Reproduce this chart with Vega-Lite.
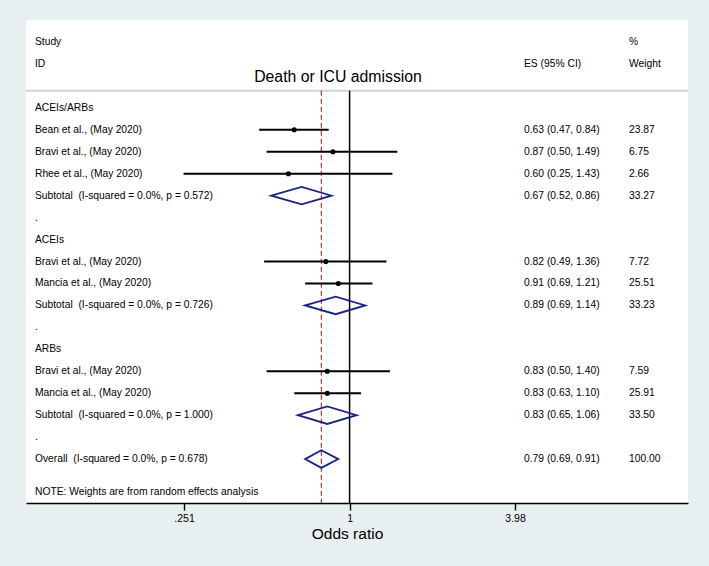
{
  "$schema": "https://vega.github.io/schema/vega-lite/v6.json",
  "width": 662,
  "height": 483,
  "autosize": {"type": "none"},
  "padding": {"left": 26, "top": 20, "right": 21, "bottom": 63},
  "background": "#e8eff1",
  "config": {
    "view": {"fill": "white", "stroke": null},
    "font": "Liberation Sans, Arial, sans-serif",
    "text": {"font": "Liberation Sans, Arial, sans-serif"}
  },
  "datasets": {
    "rows": [
      {"row": -3, "label": "Study", "estxt": "", "wt": "%", "type": "head"},
      {"row": -2, "label": "ID", "estxt": "ES (95% CI)", "wt": "Weight", "type": "head"},
      {"row": 0, "label": "ACEIs/ARBs", "estxt": "", "wt": "", "type": "group"},
      {"row": 1, "label": "Bean et al., (May 2020)", "es": 0.63, "lo": 0.47, "hi": 0.84, "estxt": "0.63 (0.47, 0.84)", "wt": "23.87", "type": "study"},
      {"row": 2, "label": "Bravi et al., (May 2020)", "es": 0.87, "lo": 0.50, "hi": 1.49, "estxt": "0.87 (0.50, 1.49)", "wt": "6.75", "type": "study"},
      {"row": 3, "label": "Rhee et al., (May 2020)", "es": 0.60, "lo": 0.25, "hi": 1.43, "estxt": "0.60 (0.25, 1.43)", "wt": "2.66", "type": "study"},
      {"row": 4, "label": "Subtotal\u00a0 (I-squared = 0.0%, p = 0.572)", "es": 0.67, "lo": 0.52, "hi": 0.86, "estxt": "0.67 (0.52, 0.86)", "wt": "33.27", "type": "pooled"},
      {"row": 5, "label": ".", "estxt": "", "wt": "", "type": "gap"},
      {"row": 6, "label": "ACEIs", "estxt": "", "wt": "", "type": "group"},
      {"row": 7, "label": "Bravi et al., (May 2020)", "es": 0.82, "lo": 0.49, "hi": 1.36, "estxt": "0.82 (0.49, 1.36)", "wt": "7.72", "type": "study"},
      {"row": 8, "label": "Mancia et al., (May 2020)", "es": 0.91, "lo": 0.69, "hi": 1.21, "estxt": "0.91 (0.69, 1.21)", "wt": "25.51", "type": "study"},
      {"row": 9, "label": "Subtotal\u00a0 (I-squared = 0.0%, p = 0.726)", "es": 0.89, "lo": 0.69, "hi": 1.14, "estxt": "0.89 (0.69, 1.14)", "wt": "33.23", "type": "pooled"},
      {"row": 10, "label": ".", "estxt": "", "wt": "", "type": "gap"},
      {"row": 11, "label": "ARBs", "estxt": "", "wt": "", "type": "group"},
      {"row": 12, "label": "Bravi et al., (May 2020)", "es": 0.83, "lo": 0.50, "hi": 1.40, "estxt": "0.83 (0.50, 1.40)", "wt": "7.59", "type": "study"},
      {"row": 13, "label": "Mancia et al., (May 2020)", "es": 0.83, "lo": 0.63, "hi": 1.10, "estxt": "0.83 (0.63, 1.10)", "wt": "25.91", "type": "study"},
      {"row": 14, "label": "Subtotal\u00a0 (I-squared = 0.0%, p = 1.000)", "es": 0.83, "lo": 0.65, "hi": 1.06, "estxt": "0.83 (0.65, 1.06)", "wt": "33.50", "type": "pooled"},
      {"row": 15, "label": ".", "estxt": "", "wt": "", "type": "gap"},
      {"row": 16, "label": "Overall\u00a0 (I-squared = 0.0%, p = 0.678)", "es": 0.79, "lo": 0.69, "hi": 0.91, "estxt": "0.79 (0.69, 0.91)", "wt": "100.00", "type": "pooled"},
      {"row": 17.5, "label": "NOTE: Weights are from random effects analysis", "estxt": "", "wt": "", "type": "note"}
    ]
  },
  "layer": [
    {
      "data": {"values": [{}]},
      "mark": {"type": "rule", "color": "#d2d2d2", "strokeWidth": 2},
      "encoding": {
        "y": {"datum": -0.78, "type": "quantitative", "scale": {"domain": [-4, 18], "reverse": true, "nice": false, "zero": false}, "axis": null}
      }
    },
    {
      "data": {"values": [{}]},
      "mark": {"type": "rule", "color": "#000000", "strokeWidth": 1.5},
      "encoding": {
        "x": {"datum": 1, "type": "quantitative"},
        "y": {"datum": -0.78, "type": "quantitative"},
        "y2": {"datum": 18}
      }
    },
    {
      "data": {"values": [{}]},
      "mark": {"type": "rule", "color": "#b8332e", "strokeWidth": 1.2, "strokeDash": [5, 3]},
      "encoding": {
        "x": {"datum": 0.79, "type": "quantitative"},
        "y": {"datum": -0.78, "type": "quantitative"},
        "y2": {"datum": 18}
      }
    },
    {
      "data": {"name": "rows"},
      "transform": [{"filter": "datum.type === 'study'"}],
      "mark": {"type": "rule", "color": "#000000", "strokeWidth": 1.9},
      "encoding": {
        "x": {
          "field": "lo", "type": "quantitative",
          "scale": {"type": "log", "domain": [0.0671, 16.87], "nice": false, "zero": false},
          "axis": {
            "values": [0.251, 1, 3.98],
            "labelExpr": "datum.value == 1 ? '1' : (datum.value < 0.5 ? '.251' : '3.98')",
            "grid": false,
            "domainColor": "#000000",
            "domainWidth": 1.6,
            "tickColor": "#000000",
            "tickWidth": 1.4,
            "tickSize": 7,
            "labelFontSize": 10.5,
            "labelColor": "#000000",
            "labelPadding": 3,
            "labelFont": "Liberation Sans, Arial, sans-serif",
            "title": "Odds ratio",
            "titleFont": "Liberation Sans, Arial, sans-serif",
            "titleFontSize": 15.5,
            "titleFontWeight": "normal",
            "titleColor": "#000000",
            "titleX": 321,
            "titleY": 35,
            "titleBaseline": "alphabetic",
            "titleAlign": "center"
          }
        },
        "x2": {"field": "hi"},
        "y": {"field": "row", "type": "quantitative"}
      }
    },
    {
      "data": {"name": "rows"},
      "transform": [{"filter": "datum.type === 'study'"}],
      "mark": {"type": "point", "filled": true, "color": "#000000", "size": 26, "opacity": 1},
      "encoding": {
        "x": {"field": "es", "type": "quantitative"},
        "y": {"field": "row", "type": "quantitative"}
      }
    },
    {
      "data": {"name": "rows"},
      "transform": [
        {"filter": "datum.type === 'pooled'"},
        {"fold": ["lo", "es", "hi"], "as": ["k", "v"]},
        {"calculate": "datum.k === 'es' ? 0.4 : 0", "as": "h"},
        {"calculate": "datum.row - datum.h", "as": "ytop"},
        {"calculate": "datum.row + datum.h", "as": "ybot"}
      ],
      "mark": {"type": "area", "fillOpacity": 0, "stroke": "#1a2580", "strokeWidth": 1.8, "orient": "vertical"},
      "encoding": {
        "x": {"field": "v", "type": "quantitative"},
        "y": {"field": "ytop", "type": "quantitative"},
        "y2": {"field": "ybot"},
        "detail": {"field": "row"}
      }
    },
    {
      "data": {"name": "rows"},
      "mark": {"type": "text", "align": "left", "baseline": "middle", "fontSize": 10.3, "color": "#000000"},
      "encoding": {
        "x": {"datum": 0.0723, "type": "quantitative"},
        "y": {"field": "row", "type": "quantitative"},
        "text": {"field": "label"}
      }
    },
    {
      "data": {"name": "rows"},
      "mark": {"type": "text", "align": "left", "baseline": "middle", "fontSize": 10.3, "color": "#000000"},
      "encoding": {
        "x": {"datum": 4.29, "type": "quantitative"},
        "y": {"field": "row", "type": "quantitative"},
        "text": {"field": "estxt"}
      }
    },
    {
      "data": {"name": "rows"},
      "mark": {"type": "text", "align": "left", "baseline": "middle", "fontSize": 10.3, "color": "#000000"},
      "encoding": {
        "x": {"datum": 10.31, "type": "quantitative"},
        "y": {"field": "row", "type": "quantitative"},
        "text": {"field": "wt"}
      }
    },
    {
      "data": {"values": [{"t": "Death or ICU admission"}]},
      "mark": {"type": "text", "align": "center", "baseline": "middle", "fontSize": 15.8, "color": "#000000"},
      "encoding": {
        "x": {"datum": 0.908, "type": "quantitative"},
        "y": {"datum": -1.4, "type": "quantitative"},
        "text": {"field": "t"}
      }
    }
  ]
}
